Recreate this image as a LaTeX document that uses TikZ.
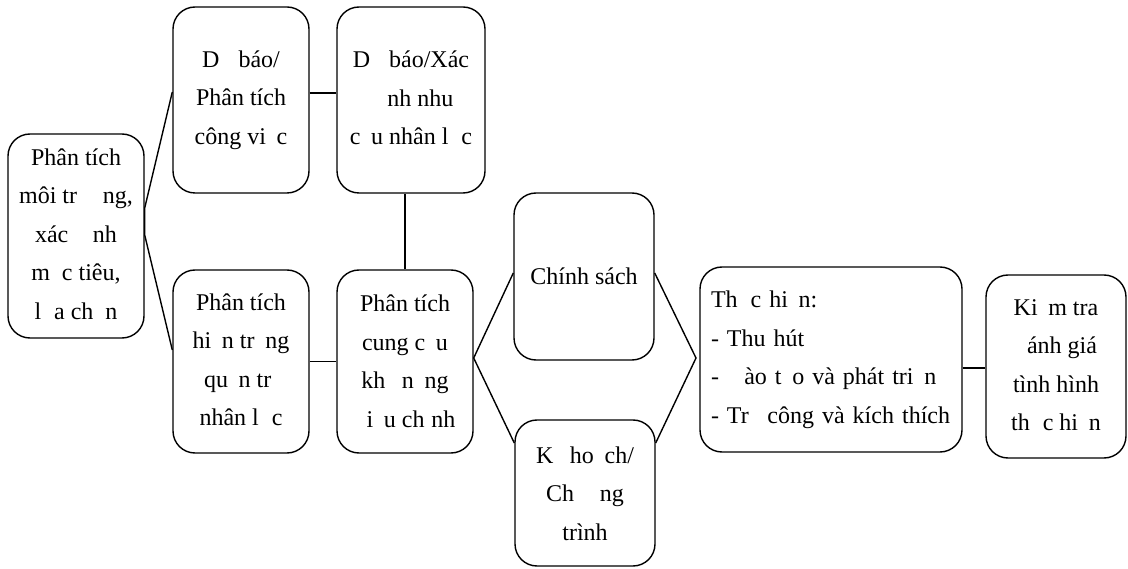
\documentclass[tikz,border=0pt]{standalone}
\usepackage{fontspec}
\setmainfont{Liberation Serif}
\usetikzlibrary{calc}
\tikzset{
  box/.style={draw, line width=1.4pt, rounded corners=22pt, inner sep=0pt,
    align=center, font=\fontsize{24}{38.5}\selectfont},
  conn/.style={line width=1.4pt}
}
\begin{document}
\begin{tikzpicture}[x=1pt,y=-1pt]
\useasboundingbox (0,0) rectangle (1128,569);
\node[box, minimum width=136pt, minimum height=204pt] (A) at (76,236)
  {Phân tích\\môi tr\phantom{ườ}ng,\\xác \phantom{đị}nh\\m\phantom{ụ}c tiêu,\\l\phantom{ự}a ch\phantom{ọ}n};
\node[box, minimum width=136pt, minimum height=186pt] (B) at (241,100)
  {D\phantom{ự} báo/\\Phân tích\\công vi\phantom{ệ}c};
\node[box, minimum width=148pt, minimum height=186pt] (C) at (411,100)
  {D\phantom{ự} báo/Xác\\\phantom{đị}nh nhu\\c\phantom{ầ}u nhân l\phantom{ự}c};
\node[box, minimum width=136pt, minimum height=183pt] (D) at (241,361.5)
  {Phân tích\\hi\phantom{ệ}n tr\phantom{ạ}ng\\qu\phantom{ả}n tr\phantom{ị}\\nhân l\phantom{ự}c};
\node[box, minimum width=136pt, minimum height=183pt] (E) at (405,361.5)
  {Phân tích\\cung c\phantom{ầ}u\\kh\phantom{ả} n\phantom{ă}ng\\\phantom{đ}i\phantom{ề}u ch\phantom{ỉ}nh};
\node[box, minimum width=140pt, minimum height=167pt] (F) at (584,276.5)
  {Chính sách};
\node[box, minimum width=140pt, minimum height=146pt] (G) at (585,493)
  {K\phantom{ế} ho\phantom{ạ}ch/\\Ch\phantom{ươ}ng\\trình};
\node[box, align=left, text width=240pt, inner xsep=11pt, minimum height=185pt] (H) at (831,359.5)
  {Th\phantom{ự}c hi\phantom{ệ}n:\\- Thu hút\\- \phantom{Đ}ào t\phantom{ạ}o và phát tri\phantom{ể}n\\- Tr\phantom{ả} công và kích thích};
\node[box, minimum width=140pt, minimum height=183pt] (I) at (1056,366.5)
  {Ki\phantom{ể}m tra\\\phantom{đ}ánh giá\\tình hình\\th\phantom{ự}c hi\phantom{ệ}n};
\coordinate (J) at (696,358);
\draw[conn] ([yshift=8pt]B.west) -- ([yshift=28pt]A.east) -- ([yshift=1pt]A.east) -- ([yshift=11.5pt]D.west);
\draw[conn] ([yshift=7pt]B.east) -- ([yshift=7pt]C.west);
\draw[conn] (E.north) -- (E.north |- C.south);
\draw[conn] (D.east) -- (E.west);
\draw[conn] ([yshift=3.5pt]F.west) -- ([yshift=3.5pt]E.east) -- ([yshift=50pt]G.west);
\draw[conn] ([yshift=3.5pt]F.east) -- (J) -- ([yshift=50pt]G.east);
\draw[conn] ([yshift=-8.5pt]H.east) -- ([yshift=-1.5pt]I.west);
\end{tikzpicture}
\end{document}
